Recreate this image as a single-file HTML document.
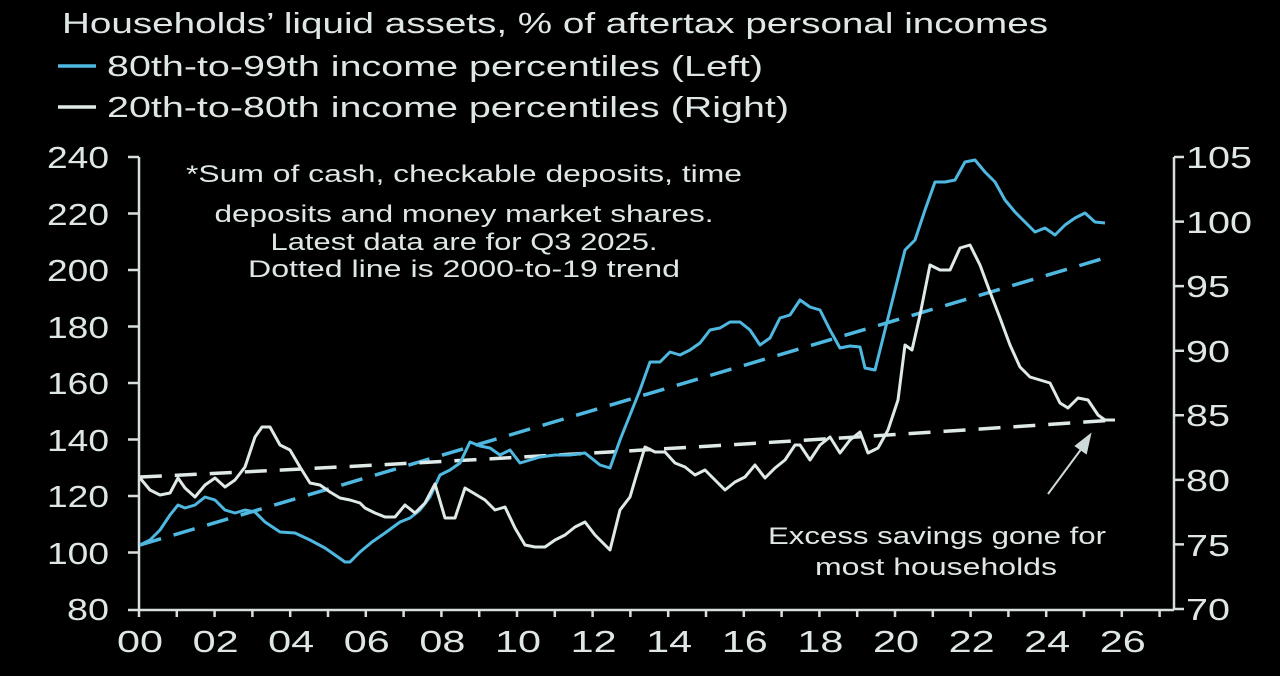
<!DOCTYPE html>
<html><head><meta charset="utf-8"><style>
html,body{margin:0;padding:0;background:#000;}
svg{display:block;}
text{font-family:"Liberation Sans",sans-serif;fill:#dfe6e6;}
</style></head><body>
<svg width="1280" height="676" viewBox="0 0 1280 676" xmlns="http://www.w3.org/2000/svg">
<rect width="1280" height="676" fill="#000"/>
<text x="62" y="33" font-size="29" textLength="986" lengthAdjust="spacingAndGlyphs">Households’ liquid assets, % of aftertax personal incomes</text>
<line x1="58" y1="66" x2="96" y2="66" stroke="#4fb8e0" stroke-width="3.5"/>
<text x="107" y="76" font-size="29" textLength="656" lengthAdjust="spacingAndGlyphs">80th-to-99th income percentiles (Left)</text>
<line x1="58" y1="107" x2="96" y2="107" stroke="#dfe9e8" stroke-width="3.5"/>
<text x="107" y="117" font-size="29" textLength="682" lengthAdjust="spacingAndGlyphs">20th-to-80th income percentiles (Right)</text>

<g stroke="#d8dede" stroke-width="2.5" fill="none">
<line x1="139" y1="157" x2="139" y2="610"/>
<line x1="128" y1="610" x2="1174" y2="610"/>
<line x1="1174" y1="157" x2="1174" y2="610"/>
<path d="M128 157H139M128 213.5H139M128 270H139M128 326.5H139M128 383H139M128 439.5H139M128 496H139M128 552.5H139"/>
<path d="M1174 157H1184M1174 221.6H1184M1174 286.1H1184M1174 350.7H1184M1174 415.3H1184M1174 479.9H1184M1174 544.4H1184M1174 609H1184"/>
<path d="M139 610v7M176.8 610v7M214.6 610v7M252.4 610v7M290.2 610v7M328 610v7M365.8 610v7M403.6 610v7M441.4 610v7M479.2 610v7M517 610v7M554.8 610v7M592.6 610v7M630.4 610v7M668.2 610v7M706 610v7M743.8 610v7M781.6 610v7M819.4 610v7M857.2 610v7M895 610v7M932.8 610v7M970.6 610v7M1008.4 610v7M1046.2 610v7M1084 610v7M1121.8 610v7M1159.6 610v7"/>
</g>
<g font-size="31" text-anchor="end">
<text x="109" y="168" textLength="62" lengthAdjust="spacingAndGlyphs">240</text><text x="109" y="225" textLength="62" lengthAdjust="spacingAndGlyphs">220</text><text x="109" y="281" textLength="62" lengthAdjust="spacingAndGlyphs">200</text><text x="109" y="338" textLength="62" lengthAdjust="spacingAndGlyphs">180</text><text x="109" y="394" textLength="62" lengthAdjust="spacingAndGlyphs">160</text><text x="109" y="451" textLength="62" lengthAdjust="spacingAndGlyphs">140</text><text x="109" y="507" textLength="62" lengthAdjust="spacingAndGlyphs">120</text><text x="109" y="564" textLength="62" lengthAdjust="spacingAndGlyphs">100</text><text x="109" y="620" textLength="42" lengthAdjust="spacingAndGlyphs">80</text>
</g>
<g font-size="31">
<text x="1186" y="168" textLength="66" lengthAdjust="spacingAndGlyphs">105</text><text x="1186" y="233" textLength="66" lengthAdjust="spacingAndGlyphs">100</text><text x="1186" y="297" textLength="44" lengthAdjust="spacingAndGlyphs">95</text><text x="1186" y="362" textLength="44" lengthAdjust="spacingAndGlyphs">90</text><text x="1186" y="426" textLength="44" lengthAdjust="spacingAndGlyphs">85</text><text x="1186" y="491" textLength="44" lengthAdjust="spacingAndGlyphs">80</text><text x="1186" y="556" textLength="44" lengthAdjust="spacingAndGlyphs">75</text><text x="1186" y="620" textLength="44" lengthAdjust="spacingAndGlyphs">70</text>
</g>
<g font-size="31" text-anchor="middle">
<text x="140" y="652" textLength="46" lengthAdjust="spacingAndGlyphs">00</text><text x="215.6" y="652" textLength="46" lengthAdjust="spacingAndGlyphs">02</text><text x="291.2" y="652" textLength="46" lengthAdjust="spacingAndGlyphs">04</text><text x="366.8" y="652" textLength="46" lengthAdjust="spacingAndGlyphs">06</text><text x="442.4" y="652" textLength="46" lengthAdjust="spacingAndGlyphs">08</text><text x="518" y="652" textLength="46" lengthAdjust="spacingAndGlyphs">10</text><text x="593.6" y="652" textLength="46" lengthAdjust="spacingAndGlyphs">12</text><text x="669.2" y="652" textLength="46" lengthAdjust="spacingAndGlyphs">14</text><text x="744.8" y="652" textLength="46" lengthAdjust="spacingAndGlyphs">16</text><text x="820.4" y="652" textLength="46" lengthAdjust="spacingAndGlyphs">18</text><text x="896" y="652" textLength="46" lengthAdjust="spacingAndGlyphs">20</text><text x="971.6" y="652" textLength="46" lengthAdjust="spacingAndGlyphs">22</text><text x="1047.2" y="652" textLength="46" lengthAdjust="spacingAndGlyphs">24</text><text x="1122.8" y="652" textLength="46" lengthAdjust="spacingAndGlyphs">26</text>
</g>
<g font-size="24" text-anchor="middle">
<text x="464" y="182" textLength="556" lengthAdjust="spacingAndGlyphs">*Sum of cash, checkable deposits, time</text>
<text x="464" y="222" textLength="499" lengthAdjust="spacingAndGlyphs">deposits and money market shares.</text>
<text x="464" y="250" textLength="387" lengthAdjust="spacingAndGlyphs">Latest data are for Q3 2025.</text>
<text x="464" y="277" textLength="432" lengthAdjust="spacingAndGlyphs">Dotted line is 2000-to-19 trend</text>
<text x="937" y="544" textLength="338" lengthAdjust="spacingAndGlyphs">Excess savings gone for</text>
<text x="936" y="575" textLength="242" lengthAdjust="spacingAndGlyphs">most households</text>
</g>
<g stroke="#cfd9d9" stroke-width="2" fill="#cfd9d9">
<line x1="1048" y1="494" x2="1082" y2="448"/>
<polygon points="1090,435 1076,446 1086,453"/>
</g>

<path d="M140 545 L1105 258" stroke="#4fb8e0" stroke-width="3.5" fill="none" stroke-dasharray="22,13"/>
<path d="M140 477 Q600 455 1115 420" stroke="#dfe9e8" stroke-width="3.5" fill="none" stroke-dasharray="22,13"/>

<polyline fill="none" stroke="#4fb8e0" stroke-width="3" stroke-linejoin="round" points="140,545 150,540 160,530 170,515 178,505 185,508 195,505 205,497 215,500 225,510 235,513 245,510 255,512 265,522 280,532 295,533 310,540 325,548 335,555 345,562 350,562 360,552 372,542 385,533 400,522 410,518 420,510 430,497 440,475 450,470 460,463 470,442 480,446 490,448 500,455 510,450 520,463 530,460 540,457 555,455 570,455 585,453 600,465 610,468 620,440 630,415 640,390 650,362 660,362 670,352 680,355 690,350 700,343 710,330 720,328 730,322 740,322 750,330 760,345 770,338 780,318 790,315 800,300 810,307 820,310 830,330 840,348 850,346 860,347 865,368 875,370 885,330 895,290 905,250 915,240 925,210 935,182 945,182 955,180 965,162 975,160 985,172 995,182 1005,200 1015,212 1025,222 1035,232 1045,228 1055,235 1065,225 1075,218 1085,213 1095,222 1105,223"/>
<polyline fill="none" stroke="#dfe9e8" stroke-width="3" stroke-linejoin="round" points="140,478 150,490 160,495 170,493 178,478 185,488 195,497 205,485 215,478 225,487 235,480 245,467 255,437 262,427 270,427 280,445 290,450 300,467 310,483 320,485 330,492 340,498 350,500 360,503 365,508 375,513 385,517 395,517 405,505 415,513 425,503 435,484 445,518 455,518 465,488 475,494 485,500 495,510 505,507 515,528 525,545 535,547 545,547 555,540 565,535 575,527 585,522 595,535 610,550 620,510 630,497 635,480 645,447 655,452 665,452 675,463 685,467 695,475 705,470 715,480 725,490 735,482 745,477 755,465 765,478 775,468 785,460 795,445 800,445 810,460 820,445 830,437 840,453 850,440 860,432 868,453 878,448 888,430 898,400 905,345 912,350 920,315 930,265 940,270 950,270 960,248 970,245 980,265 990,292 1000,318 1010,345 1020,367 1030,377 1040,380 1050,383 1060,403 1068,408 1078,398 1088,400 1098,415 1105,420 1115,420"/>
</svg>
</body></html>
